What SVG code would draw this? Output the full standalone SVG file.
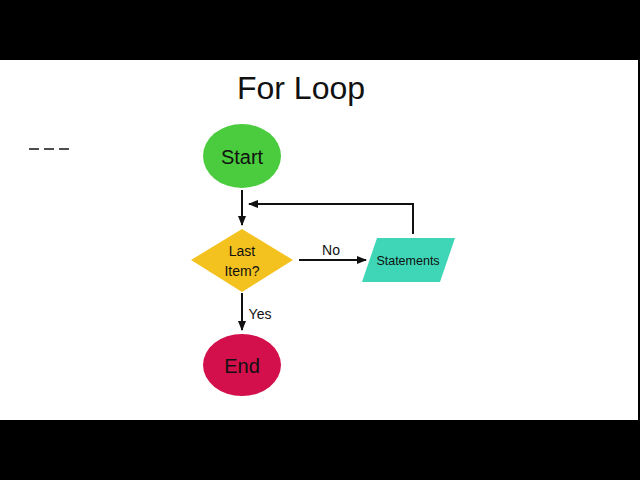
<svg xmlns="http://www.w3.org/2000/svg" width="640" height="480" viewBox="0 0 640 480">
<defs>
<style>
text{font-family:"Liberation Sans","Open Sans",Arial,sans-serif;fill:#111;text-anchor:middle}
.ln{stroke:#111;stroke-width:2;fill:none}
</style>
<marker id="ah" markerWidth="10" markerHeight="10" refX="9" refY="5" orient="auto" markerUnits="userSpaceOnUse">
<path d="M0,1 L10,5 L0,9 z" fill="#111"/>
</marker>
</defs>
<rect x="0" y="0" width="640" height="480" fill="#000"/>
<rect x="0" y="60" width="638" height="360" fill="#fff"/>
<text x="301" y="99" font-size="32">For Loop</text>
<g id="dashes" stroke="#222" stroke-width="1.6">
<line x1="29" y1="149" x2="39" y2="149"/>
<line x1="44" y1="149" x2="54" y2="149"/>
<line x1="59" y1="149" x2="69" y2="149"/>
</g>
<g id="connectors">
<line class="ln" x1="242" y1="190" x2="242" y2="225" marker-end="url(#ah)"/>
<line class="ln" x1="299" y1="260" x2="366" y2="260" marker-end="url(#ah)"/>
<polyline class="ln" points="413,234 413,204 249,204" marker-end="url(#ah)"/>
<line class="ln" x1="242" y1="293" x2="242" y2="330" marker-end="url(#ah)"/>
<text x="331" y="255" font-size="14">No</text>
<text x="260" y="319" font-size="14">Yes</text>
</g>
<g id="start">
<ellipse cx="242" cy="156" rx="39" ry="32" fill="#4bcb3e"/>
<text x="242" y="164" font-size="20">Start</text>
</g>
<g id="decision">
<polygon points="242,229 293,260 242,292 191,260" fill="#f4c21f"/>
<text x="242" y="256" font-size="14">Last</text>
<text x="242" y="276" font-size="14">Item?</text>
</g>
<g id="statements">
<polygon points="377,238 455,238 440,282 362,282" fill="#3ed6b6"/>
<text x="408" y="265" font-size="12.5">Statements</text>
</g>
<g id="end">
<ellipse cx="242" cy="365" rx="39" ry="31" fill="#d3104b"/>
<text x="242" y="373" font-size="20">End</text>
</g>
</svg>
